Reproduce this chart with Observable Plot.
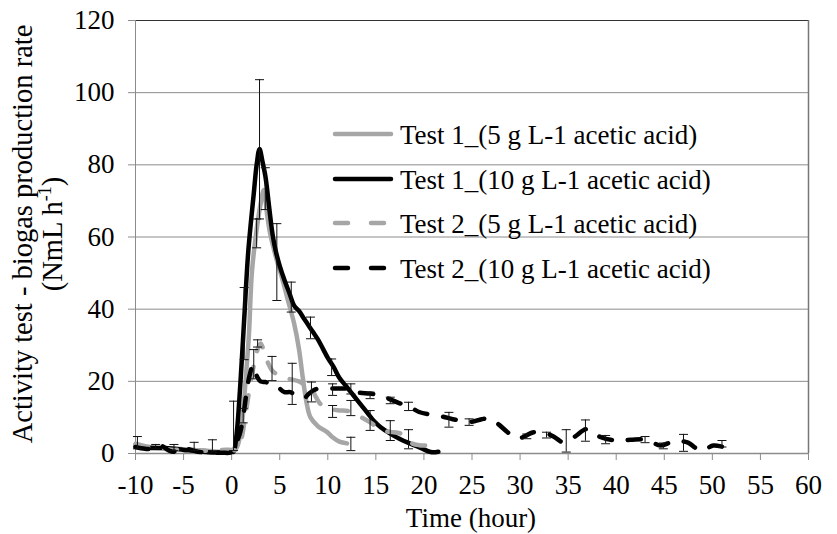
<!DOCTYPE html>
<html>
<head>
<meta charset="utf-8">
<script src="https://cdn.jsdelivr.net/npm/d3@7"></script>
<script src="https://cdn.jsdelivr.net/npm/@observablehq/plot@0.6"></script>
<style>
  html, body { margin: 0; padding: 0; background: #fff; }
  #chart { position: relative; width: 837px; height: 534px; }
</style>
</head>
<body>
<div id="chart"></div>
<script>
// ---------- data ----------
const seriesNames = [
  "Test 1_(5 g L-1 acetic acid)",
  "Test 1_(10 g L-1 acetic acid)",
  "Test 2_(5 g L-1 acetic acid)",
  "Test 2_(10 g L-1 acetic acid)"
];

// Test 1, 5 g/L (grey solid)
const t1a_t = [-10,-9,-8,-7,-6,-5,-4,-3,-2,-1,0,0.5,1.0,1.5,1.8,2.1,2.5,3.0,3.35,3.7,4.0,4.7,5.2,5.8,6.5,7.0,7.4,7.8,8.2,9.0,9.9,10.5,11.2,12.0];
const t1a_y = [2.7,2.0,1.6,1.5,1.4,1.2,1.0,0.8,0.6,0.5,0.8,1.5,7,22,33,50,60,69,73,66,61,53.5,49,43,36,29,21,14,10,7.5,6,4.5,3.3,2.8];

// Test 1, 10 g/L (black solid)
const t1b_t = [-10,-9,-8,-7,-6,-5,-4,-3,-2,-1,0,0.2,0.5,0.9,1.3,1.7,2.0,2.3,2.6,2.9,3.2,3.5,3.7,4.0,4.3,4.6,5.0,5.5,6.0,6.5,7.0,7.5,8.0,8.5,9.0,9.5,10.0,10.6,11.2,11.8,12.4,13.0,13.6,14.2,14.8,15.5,16.5,17.5,18.6,19.7,20.7,21.5];
const t1b_y = [2.0,1.6,1.5,1.5,1.3,1.0,0.8,0.5,0.3,0.3,0.5,0.5,5,19,37,55,64,72,80,84.4,81,77,73,66,60,56,52,48,44.5,41,39.5,37.5,35.5,33.5,31.5,29,26.5,24,21,19,17,15,13,11,9,7.3,5.5,4,2.7,1.5,0.4,0.5];

// Test 2, 5 g/L (grey dashed)
const t2a_t = [-10,-9,-8,-7,-6,-5,-4,-3,-2,-1,0,0.5,1.0,1.4,1.8,2.2,2.6,3.0,3.4,3.8,4.2,4.7,5.1,5.6,6.2,7.0,7.6,8.2,8.7,9.2,10.0,11.0,12.4,13.5,14.5,15.5,16.5,17.6,18.6,19.5,20.3,21.0];
const t2a_y = [2.5,1.8,1.6,1.3,1.0,1.2,1.0,0.8,0.8,1.0,1.0,1.0,4,10,17,23,28,30.5,28,25,23,22,21.6,21,20.5,20,19,18.4,16,13.8,12.5,12,11.6,10,8.5,6.5,6,5.5,3,2.3,2.2,2];

// Test 2, 10 g/L (black dashed)
const t2b_t = [-10,-9,-8,-7.5,-6.5,-6,-5.5,-4.5,-3.5,-2,-1,0,0.5,0.9,1.3,1.6,1.9,2.2,2.4,2.7,3.0,3.5,4.0,4.5,5.0,5.5,6.1,6.8,7.5,8.0,8.5,9.0,10.0,11.0,11.7,12.4,13.0,14.4,15.3,16.5,17.6,18.6,19.5,20.7,22.0,23.0,24.1,25.0,26.0,26.9,27.8,28.7,29.7,30.5,31.4,32.8,33.6,34.5,35.6,37.0,38.4,40.1,41.5,43.2,44.6,46.0,47.4,48.8,50.1,51.2,52.2];
const t2b_y = [1.8,1.3,1.3,2.3,0.8,0.5,1.6,1.2,0.5,0.2,0.2,0.4,3,6,12,18,22,24.5,23,21,20,19.8,19.5,19.3,18,17,17,16,15.2,16.5,17.5,18,18,18,18,18,17,16.6,16.2,15,13.8,12.8,11.5,10.8,10.2,9.5,9.1,8.8,9.5,9.7,8,5.9,4.1,4.8,5.9,5.5,4.5,3.1,4.5,6.8,4.5,3.6,3.8,3.8,2.2,3.4,3.1,0.8,2.2,1.8,1.3];

// error bars (time, lower, upper)
const errT  = [-9.8,-7.9,-6.0,-3.9,-2.0,0.2,1.2,1.3,2.3,2.6,2.7,2.9,3.5,4.2,4.7,6.2,6.3,8.2,8.3,10.4,10.5,10.5,12.4,12.4,12.4,14.4,14.4,16.5,16.5,18.4,18.4,22.6,24.7,30.7,32.75,34.8,36.8,38.9,43.0,44.9,47.0,51.0];
const errLo = [1.3,1.3,0.8,0.8,0.4,0.8,8.5,26,20.7,57,29.5,65,67.6,20.2,42.4,39.2,13.6,31.8,14.3,21.6,16.1,10,16.5,10.5,0.8,15.2,6.4,13.8,3.6,11.9,1.3,7.3,7.8,4.1,4.3,0.4,3.4,2.7,3.0,1.3,0.6,1.8];
const errHi = [4.7,2.5,2.5,3.1,3.8,14.5,12.5,46,28.8,65,31.5,103.6,79.2,26.9,63.7,47.5,25,37.8,19.8,26.2,19.3,13.3,19.3,14.7,4.5,17,11.9,15.6,9.1,14.2,6.6,11.4,9.6,5.4,5.9,6.6,9.3,5.0,4.7,2.9,5.3,3.6];

const xTicks = [-10,-5,0,5,10,15,20,25,30,35,40,45,50,55,60];
const yTicks = [0,20,40,60,80,100,120];

// ---------- build tables ----------
const colors = ["#a6a6a6", "#000000", "#a6a6a6", "#000000"];
const dashes = [null, null, "13,16", "13,16"];
const seriesT = [t1a_t, t1b_t, t2a_t, t2b_t];
const seriesY = [t1a_y, t1b_y, t2a_y, t2b_y];
const rows = seriesT.map((ts, i) => ts.map((t, j) => ({t, y: seriesY[i][j], s: seriesNames[i]})));
const errs = errT.map((t, i) => ({t, lo: errLo[i], hi: errHi[i]}));

const capSymbol = { draw(ctx) { ctx.moveTo(-4.5, 0); ctx.lineTo(4.5, 0); } };

const FONT = "Liberation Serif, Times New Roman, serif";
const FS = 27;

const lineMarks = rows.map((data, i) => Plot.line(data, {
  x: "t", y: "y", stroke: colors[i], strokeWidth: 4.5,
  strokeDasharray: dashes[i] || undefined,
  strokeLinecap: "round", strokeLinejoin: "round",
  curve: "catmull-rom"
}));

const chart = Plot.plot({
  width: 837, height: 534,
  marginLeft: 135, marginRight: 29, marginTop: 20, marginBottom: 81,
  style: { fontFamily: FONT, fontSize: FS + "px", color: "#000", background: "#fff", overflow: "visible" },
  x: { domain: [-10, 60] },
  y: { domain: [0, 120] },
  marks: [
    Plot.gridY(yTicks, { stroke: "#8c8c8c", strokeOpacity: 1, strokeWidth: 1 }),
    Plot.ruleY([120], { stroke: "#333", strokeWidth: 1 }),
    Plot.ruleX([60], { stroke: "#777", strokeWidth: 1.5 }),
    Plot.ruleX([-10], { stroke: "#8c8c8c", strokeWidth: 1 }),
    Plot.ruleY([0], { stroke: "#8c8c8c", strokeWidth: 1.5 }),
    Plot.axisX(xTicks, { tickSize: 7, tickPadding: 14, stroke: "#8c8c8c", fill: "#000",
      tickFormat: d => String(d), label: null, fontSize: FS }),
    Plot.axisY(yTicks, { tickSize: 7, tickPadding: 14, stroke: "#8c8c8c", fill: "#000",
      tickFormat: d => String(d), label: null, fontSize: FS }),
    ...lineMarks,
    Plot.ruleX(errs, { x: "t", y1: "lo", y2: "hi", stroke: "#111", strokeWidth: 1 }),
    Plot.dot(errs, { x: "t", y: "lo", symbol: capSymbol, stroke: "#111", strokeWidth: 1, fill: "none", r: 4 }),
    Plot.dot(errs, { x: "t", y: "hi", symbol: capSymbol, stroke: "#111", strokeWidth: 1, fill: "none", r: 4 })
  ]
});

document.getElementById("chart").appendChild(chart);

// ---------- titles and legend ----------
const svg = d3.select(chart);
const txt = svg.append("g").attr("font-family", FONT).attr("font-size", FS).attr("fill", "#000");

txt.append("text").attr("x", 471).attr("y", 527).attr("text-anchor", "middle").text("Time (hour)");

const TFS = 28.5;
txt.append("text").attr("transform", "translate(32,234) rotate(-90)").attr("font-size", TFS)
  .attr("text-anchor", "middle").text("Activity test - biogas production rate");
const l2 = txt.append("text").attr("transform", "translate(62,234) rotate(-90)").attr("font-size", TFS)
  .attr("text-anchor", "middle");
l2.append("tspan").text("(NmL h");
l2.append("tspan").attr("font-size", 18).attr("dy", -11).text("-1");
l2.append("tspan").attr("dy", 11).text(")");

const leg = svg.append("g").attr("font-family", FONT).attr("font-size", FS).attr("text-anchor", "start");
const legY = [134, 179, 223, 268];
seriesNames.forEach((name, i) => {
  leg.append("line").attr("x1", 335).attr("x2", 391).attr("y1", legY[i]).attr("y2", legY[i])
    .attr("stroke", colors[i]).attr("stroke-width", 4.5).attr("stroke-linecap", "round")
    .attr("stroke-dasharray", dashes[i] ? "13,23" : null);
  leg.append("text").attr("x", 400).attr("y", legY[i] + 10).attr("fill", "#000")
    .attr("text-anchor", "start").text(name);
});
</script>
</body>
</html>
